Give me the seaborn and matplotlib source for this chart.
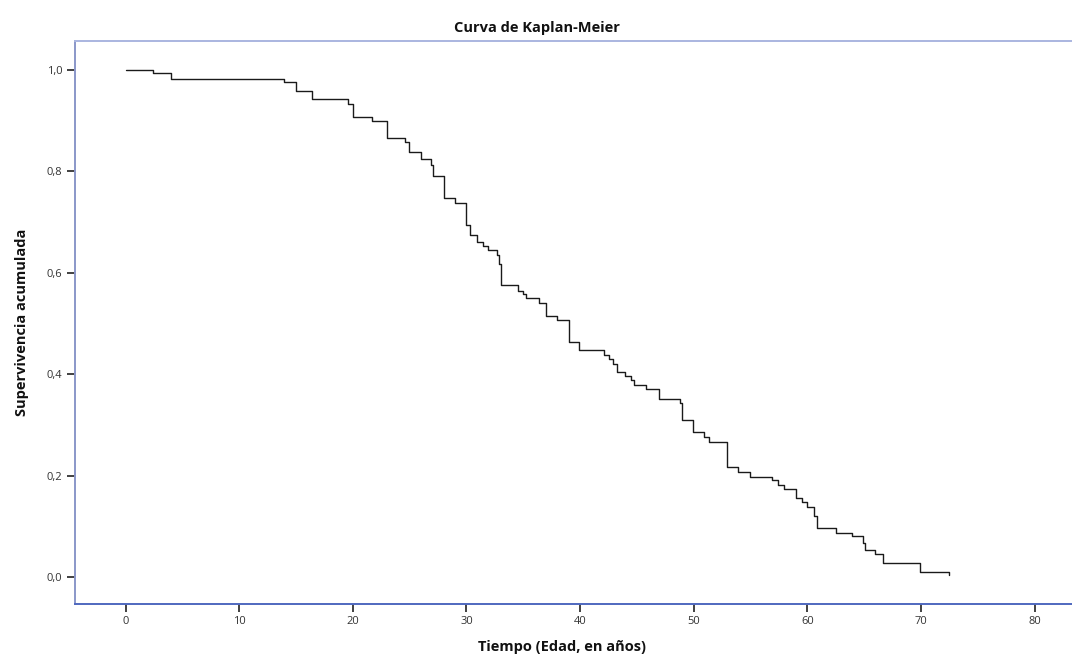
import matplotlib
matplotlib.use("Agg")
import matplotlib.pyplot as plt
import seaborn as sns
import pandas as pd

# Kaplan-Meier estimate: event times (years) and survival right after each step
tiempo = [0.0, 2.38, 3.99, 13.93, 15.0, 16.37, 19.6, 20.0, 21.65, 23.03, 24.6,
          24.96, 25.97, 26.85, 27.02, 28.02, 29.0, 29.96, 30.3, 30.9, 31.45,
          31.9, 32.66, 32.9, 33.0, 34.56, 35.0, 35.2, 36.4, 36.97, 37.99, 39.0,
          39.93, 42.1, 42.57, 42.9, 43.27, 43.95, 44.45, 44.77, 45.8, 46.95,
          48.8, 48.94, 49.97, 50.93, 51.35, 52.96, 53.93, 54.96, 56.92, 57.45,
          57.95, 58.98, 59.5, 59.95, 60.59, 60.88, 62.53, 63.96, 64.93, 65.08,
          65.96, 66.64, 69.92, 72.47]
supervivencia = [1.0, 0.994, 0.983, 0.977, 0.959, 0.942, 0.933, 0.908, 0.900,
                 0.865, 0.857, 0.839, 0.824, 0.813, 0.790, 0.747, 0.737, 0.694,
                 0.675, 0.661, 0.653, 0.645, 0.635, 0.617, 0.576, 0.565, 0.558,
                 0.550, 0.541, 0.515, 0.507, 0.464, 0.448, 0.438, 0.429, 0.421,
                 0.405, 0.396, 0.389, 0.379, 0.370, 0.352, 0.344, 0.310, 0.285,
                 0.276, 0.267, 0.216, 0.208, 0.198, 0.191, 0.181, 0.173, 0.155,
                 0.147, 0.139, 0.120, 0.096, 0.087, 0.080, 0.068, 0.053, 0.045,
                 0.028, 0.010, 0.003]

x_ticks = [0, 10, 20, 30, 40, 50, 60, 70, 80]
y_ticks = [0.0, 0.2, 0.4, 0.6, 0.8, 1.0]
y_tick_labels = ["0,0", "0,2", "0,4", "0,6", "0,8", "1,0"]

titulo = "Curva de Kaplan-Meier"
etiqueta_x = "Tiempo (Edad, en años)"
etiqueta_y = "Supervivencia acumulada"

sns.set_theme(style="white")
plt.rcParams["font.family"] = ["Open Sans", "DejaVu Sans"]

df = pd.DataFrame({"tiempo": tiempo, "supervivencia": supervivencia})

fig = plt.figure(figsize=(10.72, 6.63), dpi=100)
ax = fig.add_axes([75 / 1072, 1 - 604 / 663, 1 - 75 / 1072, (604 - 41) / 663])

sns.lineplot(data=df, x="tiempo", y="supervivencia", drawstyle="steps-post",
             estimator=None, sort=False, color="#1a1a1a", linewidth=1.0, ax=ax)

ax.set_xlim(-4.46, 83.3)
ax.set_ylim(-0.0533, 1.0572)

ax.set_xticks(x_ticks)
ax.set_xticklabels([str(v) for v in x_ticks])
ax.set_yticks(y_ticks)
ax.set_yticklabels(y_tick_labels)
ax.tick_params(axis="both", which="major", direction="out", length=6, width=1.3,
               color="#333333", labelsize=8, labelcolor="#333333", pad=3,
               bottom=True, left=True)

ax.spines["right"].set_visible(False)
ax.spines["left"].set_color("#8a97c9")
ax.spines["top"].set_color("#aab6e0")
ax.spines["bottom"].set_color("#4f68bf")
for s in ("left", "top", "bottom"):
    ax.spines[s].set_linewidth(1.4)

ax.set_xlabel(etiqueta_x, fontsize=10.5, fontweight="bold", color="#111111")
ax.set_ylabel(etiqueta_y, fontsize=10.5, fontweight="bold", color="#111111")
ax.xaxis.set_label_coords((562 - 75) / (1072 - 75), -(640 - 604) / (604 - 41))
ax.yaxis.set_label_coords(-(75 - 29) / (1072 - 75), 0.5)

fig.text(537 / 1072, 1 - 28 / 663, titulo, ha="center", va="center",
         fontsize=10.5, fontweight="bold", color="#111111")

fig.savefig("out.png", dpi=100, facecolor="white")
